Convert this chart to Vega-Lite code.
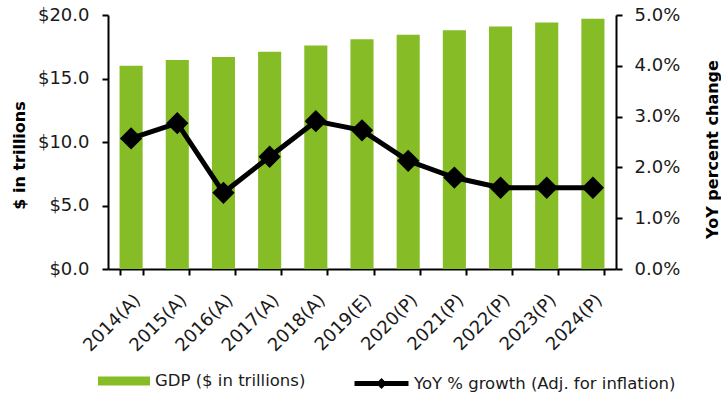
{
  "$schema": "https://vega.github.io/schema/vega-lite/v6.json",
  "width": 508,
  "height": 254,
  "autosize": {"type": "none"},
  "padding": {"left": 108, "top": 15, "right": 105, "bottom": 125},
  "background": "white",
  "config": {
    "view": {"stroke": null},
    "font": "DejaVu Sans",
    "axis": {
      "grid": false,
      "domainColor": "black",
      "domainWidth": 2,
      "tickColor": "black",
      "tickWidth": 2,
      "tickSize": 6,
      "labelFont": "DejaVu Sans",
      "labelFontSize": 18,
      "labelColor": "#1a1a1a",
      "titleFont": "DejaVu Sans",
      "titleFontSize": 16,
      "titleFontWeight": "bold",
      "titleColor": "black"
    },
    "legend": {
      "labelFont": "DejaVu Sans",
      "labelFontSize": 16.5,
      "labelColor": "#1a1a1a",
      "labelLimit": 400
    }
  },
  "data": {
    "values": [
      {"year": "2014(A)", "gdp": 16.0, "growth": 2.57},
      {"year": "2015(A)", "gdp": 16.46, "growth": 2.87},
      {"year": "2016(A)", "gdp": 16.7, "growth": 1.5},
      {"year": "2017(A)", "gdp": 17.1, "growth": 2.21},
      {"year": "2018(A)", "gdp": 17.6, "growth": 2.91},
      {"year": "2019(E)", "gdp": 18.1, "growth": 2.73},
      {"year": "2020(P)", "gdp": 18.45, "growth": 2.13},
      {"year": "2021(P)", "gdp": 18.8, "growth": 1.8},
      {"year": "2022(P)", "gdp": 19.1, "growth": 1.6},
      {"year": "2023(P)", "gdp": 19.4, "growth": 1.6},
      {"year": "2024(P)", "gdp": 19.7, "growth": 1.6}
    ]
  },
  "encoding": {
    "x": {
      "field": "year",
      "type": "nominal",
      "sort": null,
      "scale": {"paddingInner": 0.5, "paddingOuter": 0.25},
      "axis": {
        "title": null,
        "labelAngle": -45,
        "labelPadding": 16,
        "tickBand": "extent",
        "tickSize": 6
      }
    }
  },
  "layer": [
    {
      "mark": {"type": "bar"},
      "encoding": {
        "y": {
          "field": "gdp",
          "type": "quantitative",
          "scale": {"domain": [0, 20], "nice": false},
          "axis": {
            "title": "$ in trillions",
            "format": "$.1f",
            "values": [0, 5, 10, 15, 20],
            "labelPadding": 13,
            "titleX": -89,
            "titleY": 140,
            "titleAlign": "center",
            "titleBaseline": "middle"
          }
        },
        "fill": {
          "datum": "GDP ($ in trillions)",
          "type": "nominal",
          "scale": {"range": ["#86BC25"]},
          "legend": {
            "title": null,
            "orient": "none",
            "legendX": -10,
            "legendY": 340,
            "symbolType": "M-1,-0.17H1V0.17H-1Z",
            "symbolSize": 2704,
            "symbolStrokeWidth": 0,
            "labelOffset": 5
          }
        }
      }
    },
    {
      "mark": {
        "type": "line",
        "strokeWidth": 5,
        "point": {"filled": true, "shape": "diamond", "size": 380, "fill": "black"}
      },
      "encoding": {
        "y": {
          "field": "growth",
          "type": "quantitative",
          "scale": {"domain": [0, 5], "nice": false},
          "axis": {
            "orient": "right",
            "title": "YoY percent change",
            "values": [0, 1, 2, 3, 4, 5],
            "labelExpr": "format(datum.value / 100, '.1%')",
            "labelPadding": 12,
            "titleAngle": 270,
            "titleX": 96,
            "titleY": 134,
            "titleAlign": "center",
            "titleBaseline": "middle"
          }
        },
        "stroke": {
          "datum": "YoY % growth (Adj. for inflation)",
          "type": "nominal",
          "scale": {"range": ["black"]},
          "legend": {
            "title": null,
            "orient": "none",
            "legendX": 244,
            "legendY": 339,
            "symbolType": "M-1,0H1M0,-0.07L0.07,0L0,0.07L-0.07,0Z",
            "symbolSize": 2916,
            "symbolStrokeWidth": 5,
            "symbolFillColor": "black",
            "labelOffset": 3
          }
        }
      }
    }
  ],
  "resolve": {"scale": {"y": "independent"}, "legend": {"fill": "independent", "stroke": "independent"}}
}
